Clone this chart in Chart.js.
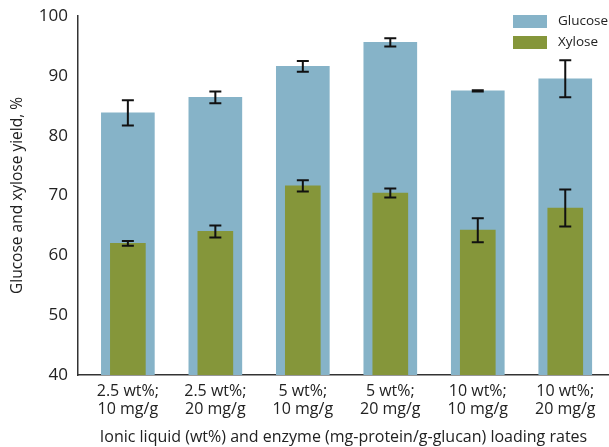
<!DOCTYPE html>
<html>
<head>
<meta charset="utf-8">
<script src="https://cdn.jsdelivr.net/npm/chart.js@4"></script>
<style>
  html, body { margin: 0; padding: 0; background: #fff; }
  #wrap { width: 609px; height: 447px; }
</style>
</head>
<body>
<div id="wrap"><canvas id="yieldChart" width="609" height="447"></canvas></div>
<script>
var categorias = [["2.5 wt%;", "10 mg/g"], ["2.5 wt%;", "20 mg/g"], ["5 wt%;", "10 mg/g"],
                  ["5 wt%;", "20 mg/g"], ["10 wt%;", "10 mg/g"], ["10 wt%;", "20 mg/g"]];
var glucose = [83.8, 86.4, 91.6, 95.6, 87.5, 89.5];
var glucoseErr = [2.1, 1.0, 0.9, 0.7, 0.1, 3.1];
var xylose = [62.0, 64.0, 71.6, 70.4, 64.2, 67.9];
var xyloseErr = [0.4, 1.0, 0.95, 0.75, 2.0, 3.1];
var yTicks = [40, 50, 60, 70, 80, 90, 100];

var corGlucose = "#86b3c8";
var corXylose = "#85963a";
var fonte = "'Open Sans', sans-serif";

// barras de erro desenhadas por cima das barras
var errorBarsPlugin = {
    id: 'errorBars',
    afterDatasetsDraw: function (chart) {
        var ctx = chart.ctx;
        var xs = chart.scales.x;
        var ys = chart.scales.y;
        var series = [[glucose, glucoseErr], [xylose, xyloseErr]];
        ctx.save();
        ctx.strokeStyle = "#111";
        ctx.lineWidth = 2;
        for (var s = 0; s < series.length; s++) {
            var vals = series[s][0];
            var errs = series[s][1];
            for (var i = 0; i < vals.length; i++) {
                var x = xs.getPixelForValue(i);
                var yTop = ys.getPixelForValue(vals[i] + errs[i]);
                var yBot = ys.getPixelForValue(vals[i] - errs[i]);
                ctx.beginPath();
                ctx.moveTo(x, yTop); ctx.lineTo(x, yBot);
                ctx.moveTo(x - 6, yTop); ctx.lineTo(x + 6, yTop);
                ctx.moveTo(x - 6, yBot); ctx.lineTo(x + 6, yBot);
                ctx.stroke();
            }
        }
        ctx.restore();
    }
};

var legendaPlugin = {
    id: 'legenda',
    afterDraw: function (chart) {
        var ctx = chart.ctx;
        var itens = [["Glucose", corGlucose], ["Xylose", corXylose]];
        ctx.save();
        ctx.font = "13.5px " + fonte;
        ctx.textBaseline = "middle";
        for (var i = 0; i < itens.length; i++) {
            var y = 15 + i * 21;
            ctx.fillStyle = itens[i][1];
            ctx.fillRect(513, y, 34, 13);
            ctx.fillStyle = "#222";
            ctx.fillText(itens[i][0], 558, y + 6.5);
        }
        ctx.restore();
    }
};

var ctx = document.getElementById('yieldChart').getContext('2d');
var yieldChart = new Chart(ctx, {
    type: 'bar',
    data: {
        labels: categorias,
        datasets: [{
            label: 'Glucose',
            data: glucose.map(function (v, i) { return {x: i, y: v}; }),
            backgroundColor: corGlucose,
            barThickness: 53,
            grouped: false,
            order: 2
        }, {
            label: 'Xylose',
            data: xylose.map(function (v, i) { return {x: i, y: v}; }),
            backgroundColor: corXylose,
            barThickness: 35,
            grouped: false,
            order: 1
        }]
    },
    options: {
        responsive: false,
        animation: false,
        layout: { padding: { top: 16, right: 0, left: 0, bottom: 0 } },
        plugins: {
            legend: { display: false },
            tooltip: { enabled: false }
        },
        scales: {
            x: {
                type: 'linear',
                offset: false,
                min: -0.57,
                max: 5.5,
                grid: { display: false, drawTicks: true, tickLength: 6, tickColor: "#333", tickWidth: 1.5 },
                border: { color: "#333", width: 1.5 },
                afterBuildTicks: function (scale) {
                    scale.ticks = categorias.map(function (c, i) { return {value: i}; });
                },
                afterFit: function (scale) { scale.height = 72; },
                ticks: {
                    maxRotation: 0,
                    autoSkip: false,
                    color: "#222",
                    font: { family: fonte, size: 16, lineHeight: 1.1 },
                    padding: 2,
                    callback: function (v) { return categorias[v]; }
                },
                title: {
                    display: true,
                    text: "Ionic liquid (wt%) and enzyme (mg-protein/g-glucan) loading rates",
                    color: "#222",
                    font: { family: fonte, size: 16 },
                    padding: { top: 0, bottom: 0 }
                }
            },
            y: {
                min: 40,
                max: 100,
                afterBuildTicks: function (scale) {
                    scale.ticks = yTicks.map(function (v) { return {value: v}; });
                },
                afterFit: function (scale) { scale.width = 78; },
                grid: { display: false, drawTicks: true, tickLength: 6, tickColor: "#333", tickWidth: 1.5 },
                border: { color: "#333", width: 1.5 },
                ticks: {
                    color: "#222",
                    font: { family: fonte, size: 17 },
                    padding: 4
                },
                title: {
                    display: true,
                    text: "Glucose and xylose yield, %",
                    color: "#222",
                    font: { family: fonte, size: 15.5 },
                    padding: { top: 8, bottom: 0 }
                }
            }
        }
    },
    plugins: [errorBarsPlugin, legendaPlugin]
});
</script>
</body>
</html>
